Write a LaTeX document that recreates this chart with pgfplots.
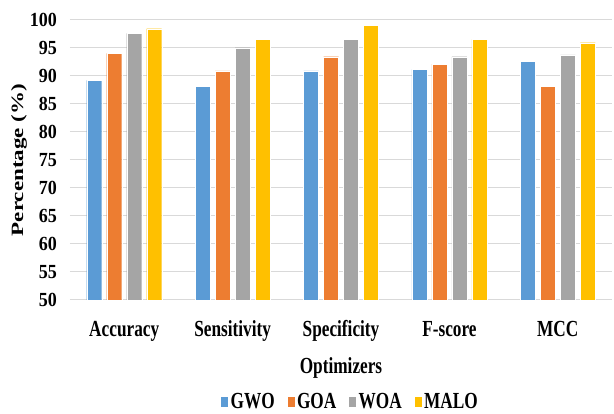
\documentclass[border=0pt]{standalone}
\usepackage{pgfplots}
\pgfplotsset{compat=1.18}
\usepackage{fontspec}
\setmainfont{Liberation Serif}
\newfontfamily\cf{Liberation Serif}[FakeStretch=0.75]
\newfontfamily\cy{Liberation Serif}[FakeStretch=0.9]

\definecolor{cgwo}{HTML}{5B9BD5}
\definecolor{cgoa}{HTML}{ED7D31}
\definecolor{cwoa}{HTML}{A5A5A5}
\definecolor{cmalo}{HTML}{FFC000}
\definecolor{cgrid}{HTML}{D9D9D9}

\begin{document}
\begin{tikzpicture}
    \useasboundingbox (-70pt,-114pt) rectangle (544pt,300pt);
    \begin{axis}[
        scale only axis,
        width  = 542pt,
        height = 280pt,
        ybar=5pt,
        bar width=15pt,
        ymin=50, ymax=100,
        ytick={50,55,...,100},
        xmin=-0.5, xmax=4.5,
        xtick={0,1,2,3,4},
        xticklabels={Accuracy,Sensitivity,Specificity,F-score,MCC},
        major tick style={draw=none},
        axis line style={draw=none},
        ymajorgrids=true,
        grid style={cgrid, line width=1pt},
        /pgf/number format/assume math mode=true,
        xticklabel style={font=\fontsize{23}{27}\cf\bfseries, anchor=base, yshift=-32pt},
        yticklabel style={font=\fontsize{20}{24}\cy\bfseries, anchor=east, inner sep=0pt, xshift=-13pt},
        xlabel={Optimizers},
        ylabel={\scalebox{1}[0.75]{Percentage (\%)}},
        x label style={font=\fontsize{23}{27}\cf\bfseries, at={(axis description cs:0.5,0)}, anchor=base, yshift=-74pt},
        y label style={font=\fontsize{23}{27}\selectfont\bfseries, at={(axis description cs:-0.094,0.5)}, anchor=center},
        legend style={at={(axis description cs:0.5,0)}, anchor=center, yshift=-102pt, xshift=9pt,
            draw=none, legend columns=-1, font=\fontsize{23}{27}\cf\bfseries,
            nodes={inner xsep=2pt},
            /tikz/every even column/.append style={column sep=10pt}},
        legend image code/.code={\fill[#1] (0pt,-5.5pt) rectangle (8pt,5.5pt);},
    ]
        \addplot[fill=cgwo, draw=white, line width=0.3pt]
            coordinates {(0,89.2) (1,88.1) (2,90.9) (3,91.2) (4,92.6)};
        \addplot[fill=cgoa, draw=white, line width=0.3pt]
            coordinates {(0,94.05) (1,90.9) (2,93.45) (3,92.1) (4,88.1)};
        \addplot[fill=cwoa, draw=white, line width=0.3pt]
            coordinates {(0,97.6) (1,95.05) (2,96.55) (3,93.45) (4,93.75)};
        \addplot[fill=cmalo, draw=white, line width=0.3pt]
            coordinates {(0,98.45) (1,96.55) (2,99.05) (3,96.55) (4,95.95)};
        \legend{GWO,GOA,WOA,MALO}
    \end{axis}
\end{tikzpicture}
\end{document}
